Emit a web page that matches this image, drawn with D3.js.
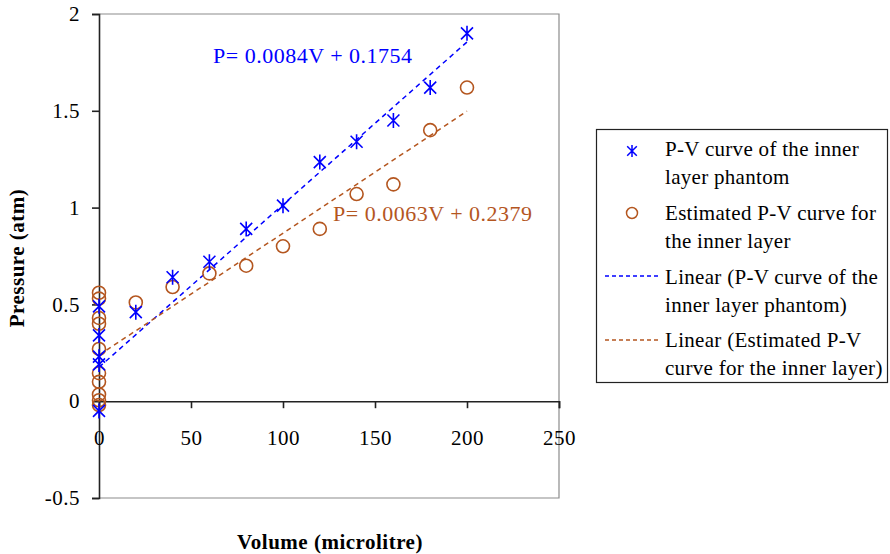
<!DOCTYPE html>
<html>
<head>
<meta charset="utf-8">
<script src="https://cdn.jsdelivr.net/npm/d3@7"></script>
<style>
  html, body { margin: 0; padding: 0; background: #fff; }
  svg { display: block; }
  text { font-family: "Liberation Serif", "Times New Roman", serif; letter-spacing: 0.5px; }
  .legend text { letter-spacing: 0.3px; }
</style>
</head>
<body>
<svg id="chart" width="890" height="554"></svg>
<script>
// ---------------- DATA ----------------
const innerVolume   = [0, 0, 0, 0, 0, 20, 40, 60, 80, 100, 120, 140, 160, 180, 200];
const innerPressure = [-0.05, 0.19, 0.23, 0.34, 0.49, 0.46, 0.64, 0.72, 0.89, 1.01, 1.235, 1.34, 1.45, 1.62, 1.90];

const estVolume   = [0, 0, 0, 0, 0, 0, 0, 0, 0, 0, 20, 40, 60, 80, 100, 120, 140, 160, 180, 200];
const estPressure = [-0.02, 0.005, 0.035, 0.10, 0.145, 0.27, 0.40, 0.43, 0.53, 0.56, 0.51, 0.59, 0.66, 0.70, 0.80, 0.89, 1.07, 1.12, 1.40, 1.62];

const trendSlopes     = [0.0084, 0.0063];
const trendIntercepts = [0.1754, 0.2379];
const trendRange      = [0, 200];
const equationLabels  = ["P= 0.0084V + 0.1754", "P= 0.0063V + 0.2379"];

const xTicks = [0, 50, 100, 150, 200, 250];
const yTicks = [-0.5, 0, 0.5, 1, 1.5, 2];
const yTickLabels = ["-0.5", "0", "0.5", "1", "1.5", "2"];

const legendLabels = [
  ["P-V curve of the inner", "layer phantom"],
  ["Estimated P-V curve for", "the inner layer"],
  ["Linear (P-V curve of the", "inner layer phantom)"],
  ["Linear (Estimated P-V", "curve for the inner layer)"]
];
const xTitle = "Volume (microlitre)";
const yTitle = "Pressure (atm)";

// ---------------- STYLE ----------------
const BLUE = "#0000ff";
const BROWN = "#b4561f";
const FS = 21;

const svg = d3.select("#chart");
const plot = { left: 99, right: 559, top: 14, bottom: 498 };

const x = d3.scaleLinear().domain([0, 250]).range([plot.left, plot.right]);
const y = d3.scaleLinear().domain([-0.5, 2]).range([plot.bottom, plot.top]);

// Plot frame (gray top/right/bottom)
svg.append("path")
  .attr("d", `M${plot.left},${plot.top}H${plot.right}V${plot.bottom}H${plot.left}`)
  .attr("fill", "none").attr("stroke", "#8c8c8c").attr("stroke-width", 1.2);

// Y axis
const yAxis = d3.axisLeft(y).tickValues(yTicks).tickSize(7).tickPadding(12)
  .tickFormat((d, i) => yTickLabels[i]);
const gy = svg.append("g").attr("transform", `translate(${plot.left},0)`).call(yAxis);
gy.select(".domain").attr("stroke", "#222").attr("stroke-width", 1.6);
gy.selectAll(".tick line").attr("stroke", "#222").attr("stroke-width", 1.6);
gy.selectAll(".tick text").attr("font-size", FS).attr("fill", "#000")
  .style("font-family", "'Liberation Serif', serif");

// X axis at y = 0
const xAxis = d3.axisBottom(x).tickValues(xTicks).tickSize(7).tickPadding(0).tickFormat(d3.format("d"));
const gx = svg.append("g").attr("transform", `translate(0,${y(0)})`).call(xAxis);
gx.select(".domain").attr("stroke", "#222").attr("stroke-width", 1.6);
gx.selectAll(".tick line").attr("stroke", "#222").attr("stroke-width", 1.6);
gx.selectAll(".tick").filter(d => d === 0).select("line").remove();
gx.selectAll(".tick text").attr("font-size", FS).attr("fill", "#000")
  .attr("dy", null).attr("y", 44)
  .style("font-family", "'Liberation Serif', serif");

// Trendlines
const trendColors = [BLUE, BROWN];
trendSlopes.forEach((m, i) => {
  const pts = trendRange.map(v => [v, m * v + trendIntercepts[i]]);
  svg.append("path")
    .attr("d", d3.line().x(d => x(d[0])).y(d => y(d[1]))(pts))
    .attr("fill", "none").attr("stroke", trendColors[i])
    .attr("stroke-width", 1.5).attr("stroke-dasharray", "5,4");
});

// Marker helpers
function asteriskPath(s) {
  const d = s * 0.8;
  return `M0,${-s}V${s}M${-d},${-d}L${d},${d}M${-d},${d}L${d},${-d}`;
}

// Estimated (circles)
svg.append("g").selectAll("circle")
  .data(d3.zip(estVolume, estPressure)).join("circle")
  .attr("cx", d => x(d[0])).attr("cy", d => y(d[1])).attr("r", 6.5)
  .attr("fill", "none").attr("stroke", BROWN).attr("stroke-width", 1.6);

// Inner phantom (asterisks)
svg.append("g").selectAll("path")
  .data(d3.zip(innerVolume, innerPressure)).join("path")
  .attr("transform", d => `translate(${x(d[0])},${y(d[1])})`)
  .attr("d", asteriskPath(7.5))
  .attr("fill", "none").attr("stroke", BLUE).attr("stroke-width", 1.6);

// Equations
svg.append("text").attr("x", 213).attr("y", 63).attr("font-size", FS + 1)
  .attr("fill", BLUE).text(equationLabels[0]);
svg.append("text").attr("x", 333).attr("y", 221).attr("font-size", FS + 1)
  .attr("fill", BROWN).text(equationLabels[1]);

// Axis titles
svg.append("text").attr("x", 330).attr("y", 549).attr("text-anchor", "middle")
  .attr("font-size", FS).attr("font-weight", "bold").text(xTitle);
svg.append("text").attr("transform", "translate(24,258) rotate(-90)")
  .attr("text-anchor", "middle").attr("font-size", FS).attr("font-weight", "bold").text(yTitle);

// Legend
const lg = svg.append("g").attr("class", "legend");
lg.append("rect").attr("x", 596.5).attr("y", 129.5).attr("width", 291).attr("height", 253)
  .attr("fill", "#fff").attr("stroke", "#222").attr("stroke-width", 1.2);
const rowBase = [156, 220, 284, 347];
legendLabels.forEach((lines, i) => {
  const t = lg.append("text").attr("x", 665).attr("y", rowBase[i]).attr("font-size", FS);
  lines.forEach((l, j) => t.append("tspan").attr("x", 665).attr("y", rowBase[i] + j * 28).text(l));
});
lg.append("path").attr("transform", "translate(632,151)").attr("d", asteriskPath(6))
  .attr("fill", "none").attr("stroke", BLUE).attr("stroke-width", 1.5);
lg.append("circle").attr("cx", 632).attr("cy", 213).attr("r", 5.5)
  .attr("fill", "none").attr("stroke", BROWN).attr("stroke-width", 1.5);
[[276, BLUE], [340, BROWN]].forEach(([yy, c]) => {
  lg.append("line").attr("x1", 605).attr("x2", 658).attr("y1", yy).attr("y2", yy)
    .attr("stroke", c).attr("stroke-width", 1.5).attr("stroke-dasharray", "4,3");
});
</script>
</body>
</html>
